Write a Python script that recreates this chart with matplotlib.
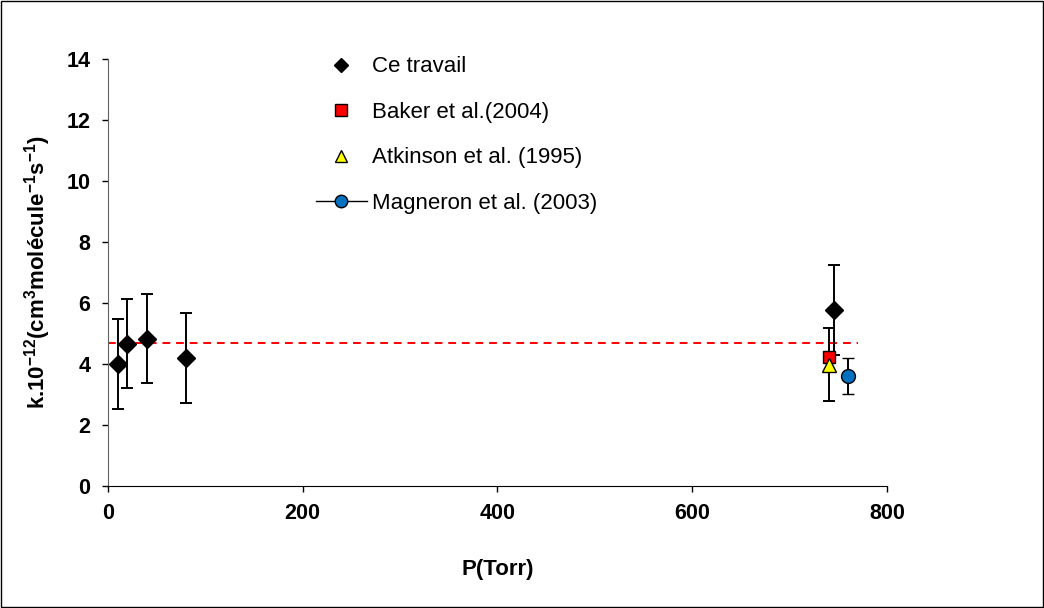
import matplotlib.pyplot as plt
from matplotlib.lines import Line2D
from matplotlib.patches import Rectangle

plt.rcParams['font.family'] = ['Liberation Sans', 'DejaVu Sans']
plt.rcParams['mathtext.fontset'] = 'custom'
plt.rcParams['mathtext.bf'] = 'Liberation Sans:bold'
plt.rcParams['mathtext.rm'] = 'Liberation Sans'

# ---------- data --------------------------------------------------
ce_p = [10, 20, 40, 80, 746]
ce_k = [4.0, 4.67, 4.83, 4.2, 5.77]
ce_err = [1.48, 1.46, 1.47, 1.47, 1.47]

baker_p = [740]
baker_k = [4.22]

atk_p = [740]
atk_k = [3.98]
atk_err = [1.2]

mag_p = [760]
mag_k = [3.6]
mag_err = [0.6]

mean_k = 4.7
mean_p = [0, 770]

xticks = [0, 200, 400, 600, 800]
yticks = [0, 2, 4, 6, 8, 10, 12, 14]

# ---------- figure ------------------------------------------------
fig = plt.figure(figsize=(10.44, 6.08), dpi=100)
ax = fig.add_axes([0.1034, 0.2007, 0.7462, 0.7023])

ax.plot(mean_p, [mean_k, mean_k], color='#ff0000', ls=(0, (4, 3)), lw=1.4, zorder=1)

ax.errorbar(atk_p, atk_k, yerr=atk_err, fmt='none', ecolor='black', elinewidth=1.4,
            capsize=4.5, capthick=1.4, zorder=2)
ax.errorbar(ce_p, ce_k, yerr=ce_err, fmt='D', color='black', ms=9.5, elinewidth=1.4,
            capsize=4.5, capthick=1.4, zorder=3)
ax.errorbar(mag_p, mag_k, yerr=mag_err, fmt='o', mfc='#0070c0', mec='black', mew=1,
            ms=10, ecolor='black', elinewidth=1.4, capsize=4.5, capthick=1.4, zorder=3)
ax.plot(baker_p, baker_k, 's', mfc='#ff0000', mec='black', mew=1, ms=9, zorder=4)
ax.plot(atk_p, atk_k, '^', mfc='#ffff00', mec='black', mew=1, ms=10, zorder=5)

ax.set_xlim(0, 800)
ax.set_ylim(0, 14)
ax.set_xticks(xticks)
ax.set_yticks(yticks)
ax.tick_params(direction='out', length=4.5, width=1, labelsize=15.5, pad=8)
for lab in ax.get_xticklabels() + ax.get_yticklabels():
    lab.set_fontweight('bold')
ax.spines['top'].set_visible(False)
ax.spines['right'].set_visible(False)
ax.spines['left'].set_color('#606060')
ax.spines['bottom'].set_color('black')

ax.set_xlabel('P(Torr)', fontsize=16, fontweight='bold', labelpad=25)
ax.set_ylabel('k.10$^{\\mathbf{-12}}$(cm$^{\\mathbf{3}}$molécule$^{\\mathbf{-1}}$s$^{\\mathbf{-1}}$)',
              fontsize=16, fontweight='bold', labelpad=10)

# legend
handles = [
    Line2D([], [], ls='none', marker='D', color='black', ms=7),
    Line2D([], [], ls='none', marker='s', mfc='#ff0000', mec='black', ms=9),
    Line2D([], [], ls='none', marker='^', mfc='#ffff00', mec='black', ms=9),
    Line2D([], [], color='black', lw=1, marker='o', mfc='#0070c0', mec='black', ms=9),
]
labels = ['Ce travail', 'Baker et al.(2004)', 'Atkinson et al. (1995)', 'Magneron et al. (2003)']
fig.legend(handles, labels, loc='upper left', bbox_to_anchor=(0.2833, 0.94), frameon=False,
           fontsize=16, labelspacing=1.1, handlelength=2.3, handletextpad=0.25)

fig.patches.append(Rectangle((0.001, 0.001), 0.998, 0.998, transform=fig.transFigure,
                             fill=False, ec='black', lw=1))

fig.savefig('out.png', dpi=100)
